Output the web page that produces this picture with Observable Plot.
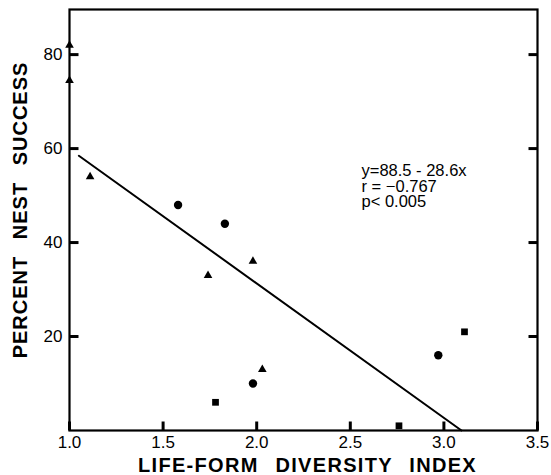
<!DOCTYPE html>
<html>
<head>
<meta charset="utf-8">
<script src="https://cdn.jsdelivr.net/npm/d3@7"></script>
<script src="https://cdn.jsdelivr.net/npm/@observablehq/plot@0.6"></script>
<style>
  html, body { margin: 0; padding: 0; background: #fff; }
</style>
</head>
<body>
<div id="chart"></div>
<script>
// Data
const triangleX = [1.0, 1.0, 1.11, 1.74, 1.98, 2.03];
const triangleY = [82, 74.5, 54, 33, 36, 13];
const circleX = [1.58, 1.83, 1.98, 2.97];
const circleY = [48, 44, 10, 16];
const squareX = [1.78, 2.76, 3.11];
const squareY = [6, 1, 21];

// Regression line y = 88.5 - 28.6x, drawn over the range shown
const fitIntercept = 88.5;
const fitSlope = -28.6;
const fitRangeX = [1.05, 3.094];

const xTicks = [1.0, 1.5, 2.0, 2.5, 3.0, 3.5];
const xTickLabels = ["1.0", "1.5", "2.0", "2.5", "3.0", "3.5"];
const yTicks = [20, 40, 60, 80];
const yTickLabels = ["20", "40", "60", "80"];

const xTitle = "LIFE-FORM DIVERSITY INDEX";
const yTitle = "PERCENT NEST SUCCESS";
const statsLines = ["y=88.5 - 28.6x", "r = \u22120.767", "p< 0.005"];
const statsPos = {x: 2.56, y: 56.5};

const tri = triangleX.map((x, i) => ({x, y: triangleY[i]}));
const circ = circleX.map((x, i) => ({x, y: circleY[i]}));
const sq = squareX.map((x, i) => ({x, y: squareY[i]}));
const fit = fitRangeX.map(x => ({x, y: fitIntercept + fitSlope * x}));

const fmtX = d => xTickLabels[xTicks.indexOf(d)];
const fmtY = d => yTickLabels[yTicks.indexOf(d)];

const W = 551, H = 475, ML = 69, MR = 14, MT = 9, MB = 45;
const frameW = W - ML - MR, frameH = H - MT - MB;
const xMin = 1, xMax = 3.5, yMin = 0, yMax = 89.6;
const tickLen = 9;
const tickDY = tickLen * (yMax - yMin) / frameH;
const tickDX = tickLen * (xMax - xMin) / frameW;

const bottomTicks = xTicks.map(x => ({x, y1: yMin, y2: yMin + tickDY}));
const leftTicks = yTicks.map(y => ({y, x1: xMin, x2: xMin + tickDX}));
const rightTicks = yTicks.map(y => ({y, x1: xMax - tickDX, x2: xMax}));

const chart = Plot.plot({
  width: W,
  height: H,
  marginLeft: ML,
  marginRight: MR,
  marginTop: MT,
  marginBottom: MB,
  style: {fontFamily: "'Liberation Sans', Arial, sans-serif", background: "#fff", color: "#000"},
  x: {domain: [xMin, xMax], label: null},
  y: {domain: [yMin, yMax], label: null},
  marks: [
    Plot.frame({stroke: "#000", strokeWidth: 2.2}),
    // inward ticks (bottom, left, right)
    Plot.link(bottomTicks, {x1: "x", x2: "x", y1: "y1", y2: "y2", stroke: "#000", strokeWidth: 3}),
    Plot.link(leftTicks, {x1: "x1", x2: "x2", y1: "y", y2: "y", stroke: "#000", strokeWidth: 3}),
    Plot.link(rightTicks, {x1: "x1", x2: "x2", y1: "y", y2: "y", stroke: "#000", strokeWidth: 3}),
    // tick labels
    Plot.axisX(xTicks, {anchor: "bottom", tickSize: 0, tickPadding: 5, fontSize: 17, tickFormat: fmtX, label: null}),
    Plot.axisY(yTicks, {anchor: "left", tickSize: 0, tickPadding: 7, fontSize: 17, tickFormat: fmtY, label: null}),
    // regression line
    Plot.line(fit, {x: "x", y: "y", stroke: "#000", strokeWidth: 2}),
    // points
    Plot.dot(tri, {x: "x", y: "y", symbol: "triangle", r: 3.2, fill: "#000", stroke: "none", clip: false}),
    Plot.dot(circ, {x: "x", y: "y", symbol: "circle", r: 4.2, fill: "#000", stroke: "none"}),
    Plot.dot(sq, {x: "x", y: "y", symbol: "square", r: 3.8, fill: "#000", stroke: "none"}),
    // stats annotation
    Plot.text([statsLines.join("\n")], {x: () => statsPos.x, y: () => statsPos.y, textAnchor: "start", lineAnchor: "top", lineHeight: 0.95, fontSize: 16.5, fill: "#000"}),
    // axis titles
    Plot.text([xTitle], {frameAnchor: "bottom", textAnchor: "middle", lineAnchor: "middle", dx: 4, dy: 35, fontSize: 20, fontWeight: "bold", fill: "#000"}),
    Plot.text([yTitle], {frameAnchor: "left", textAnchor: "middle", lineAnchor: "middle", dx: -49, dy: -10, rotate: -90, fontSize: 20, fontWeight: "bold", fill: "#000"})
  ]
});

chart.querySelectorAll("text").forEach(t => {
  const s = t.textContent;
  if (s === xTitle || s === yTitle) {
    t.setAttribute("letter-spacing", s === xTitle ? "1.3" : "1");
    t.setAttribute("word-spacing", "10");
  }
});

document.getElementById("chart").appendChild(chart);
</script>
</body>
</html>
